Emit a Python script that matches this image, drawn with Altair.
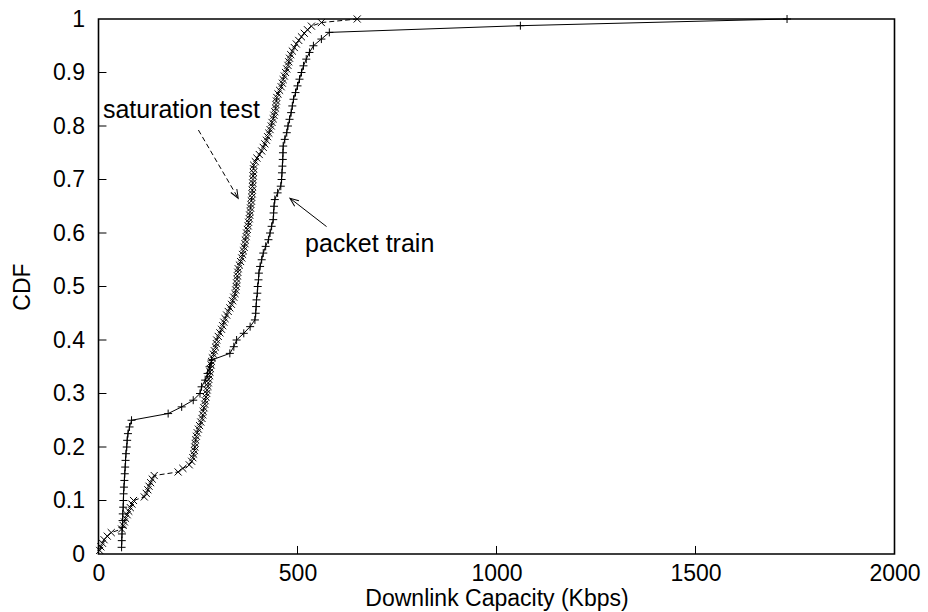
import altair as alt
import pandas as pd

# Downlink capacity samples (Kbps) measured by each method
packet_train_kbps = [
    58, 58.5, 59, 60, 60.5, 61, 62, 62.5, 63, 64,
    65, 66, 67, 68, 69, 71, 72, 74, 78, 83,
    175, 209, 238, 255, 259, 268, 274, 279, 284, 330,
    340, 347, 365, 381, 393, 395, 396, 397, 399, 400,
    402, 403, 406, 410, 414, 420, 427, 431, 435, 439,
    440, 441, 443, 450, 458, 460, 461, 462, 463, 463.5,
    464, 468, 473, 476, 480, 484, 487, 490, 495, 500,
    505, 510, 515, 522, 530, 540, 560, 580, 1060, 1730,
]

saturation_kbps = [
    3, 6, 10, 14, 22, 32, 58, 62, 65, 68,
    72, 76, 80, 84, 88, 115, 120, 124, 127, 131,
    135, 140, 200, 212, 228, 234, 237, 239, 241, 242,
    243, 244, 246, 248, 251, 254, 257, 260, 262, 263,
    265, 267, 268, 270, 272, 273, 275, 276, 277, 279,
    280, 281, 283, 284, 286, 289, 291, 294, 296, 297,
    301, 305, 309, 312, 315, 318, 322, 326, 330, 334,
    337, 340, 343, 345, 346, 347, 348, 349, 350, 351,
    354, 357, 360, 362, 364, 366, 368, 369, 371, 372,
    374, 376, 377, 379, 380, 381, 382, 383, 384, 385,
    386, 386.5, 387, 387.5, 388, 388.5, 389, 389.5, 390, 394,
    398, 404, 410, 414, 418, 422, 425, 428, 431, 434,
    436, 439, 441, 443, 445, 446, 447, 448, 451, 455,
    459, 462, 464, 467, 470, 473, 476, 478, 480, 483,
    487, 492, 497, 503, 510, 517, 525, 535, 560, 650,
]

x_ticks = [0, 500, 1000, 1500, 2000]
y_ticks = [0, 0.1, 0.2, 0.3, 0.4, 0.5, 0.6, 0.7, 0.8, 0.9, 1]

FONT = "Liberation Sans"
FS = 23
NOTE_FS = 25

x_scale = alt.Scale(domain=[0, 2000], nice=False, zero=False)
y_scale = alt.Scale(domain=[0, 1], nice=False, zero=False)

x_axis = alt.Axis(values=x_ticks, title="Downlink Capacity (Kbps)", grid=False,
                  format="d", domain=False, ticks=False, labelFont=FONT,
                  labelFontSize=FS, titleFont=FONT, titleFontSize=FS,
                  titleFontWeight="normal", labelColor="black",
                  titleColor="black", labelPadding=8, titlePadding=2,
                  labelFlush=False)
y_axis = alt.Axis(values=y_ticks, title="CDF", grid=False, format="~g",
                  domain=False, ticks=False, labelFont=FONT, labelFontSize=FS,
                  titleFont=FONT, titleFontSize=FS, titleFontWeight="normal",
                  labelColor="black", titleColor="black", labelPadding=14,
                  titlePadding=18, labelFlush=False)

PLUS = "M-1,0L1,0M0,-1L0,1"
CROSS = "M-1,-1L1,1M-1,1L1,-1"
ARROW_HEAD = "M-0.4,1L0,0L0.4,1"


def ecdf_layers(values, dash, shape, size):
    df = pd.DataFrame({"kbps": values})
    base = (
        alt.Chart(df)
        .transform_window(rank="row_number()", sort=[alt.SortField("kbps")])
        .transform_joinaggregate(n="count()")
        .transform_calculate(cdf="datum.rank / datum.n")
    )
    enc = dict(
        x=alt.X("kbps:Q", scale=x_scale, axis=x_axis),
        y=alt.Y("cdf:Q", scale=y_scale, axis=y_axis),
    )
    line_kw = dict(color="black", strokeWidth=1)
    if dash:
        line_kw["strokeDash"] = dash
    line = base.mark_line(**line_kw).encode(order="kbps:Q", **enc)
    pts = base.mark_point(shape=shape, filled=False, size=size, color="black",
                          strokeWidth=1, opacity=1).encode(**enc)
    return [line, pts]


one = alt.Data(values=[{}])

# Inward tick marks on the left and bottom edges
ytick_df = pd.DataFrame({"v": y_ticks[1:-1]})
xtick_df = pd.DataFrame({"v": x_ticks[1:-1]})
yticks = alt.Chart(ytick_df).mark_rule(color="black", strokeWidth=1).encode(
    y=alt.Y("v:Q", scale=y_scale, axis=y_axis),
    x=alt.datum(0, scale=x_scale), x2=alt.datum(20),
)
xticks = alt.Chart(xtick_df).mark_rule(color="black", strokeWidth=1).encode(
    x=alt.X("v:Q", scale=x_scale, axis=x_axis),
    y=alt.datum(0, scale=y_scale), y2=alt.datum(0.015),
)

# Annotations
sat_text = alt.Chart(one).mark_text(text="saturation test", align="left",
                                    baseline="alphabetic", font=FONT,
                                    fontSize=NOTE_FS, color="black").encode(
    x=alt.datum(11), y=alt.datum(0.815))
sat_arrow = alt.Chart(one).mark_rule(color="black", strokeWidth=1,
                                     strokeDash=[5, 3]).encode(
    x=alt.datum(251), y=alt.datum(0.7925), x2=alt.datum(351), y2=alt.datum(0.665))
sat_head = alt.Chart(one).mark_point(shape=ARROW_HEAD, filled=False, size=300,
                                     angle=149.7, color="black", strokeWidth=1,
                                     opacity=1).encode(
    x=alt.datum(351), y=alt.datum(0.665))

pt_text = alt.Chart(one).mark_text(text="packet train", align="left",
                                   baseline="alphabetic", font=FONT,
                                   fontSize=NOTE_FS, color="black").encode(
    x=alt.datum(519), y=alt.datum(0.564))
pt_arrow = alt.Chart(one).mark_rule(color="black", strokeWidth=1).encode(
    x=alt.datum(573), y=alt.datum(0.612), x2=alt.datum(481), y2=alt.datum(0.665))
pt_head = alt.Chart(one).mark_point(shape=ARROW_HEAD, filled=False, size=300,
                                    angle=307.7, color="black", strokeWidth=1,
                                    opacity=1).encode(
    x=alt.datum(481), y=alt.datum(0.665))

layers = (
    [yticks, xticks]
    + ecdf_layers(packet_train_kbps, None, PLUS, 64)
    + ecdf_layers(saturation_kbps, [5, 3], CROSS, 50)
    + [sat_text, sat_arrow, sat_head, pt_text, pt_arrow, pt_head]
)

chart = (
    alt.layer(*layers)
    .properties(width=796, height=535,
                autosize=alt.AutoSizeParams(type="none"),
                padding={"left": 98.5, "top": 19, "right": 33.5, "bottom": 58},
                background="white")
    .configure_view(stroke="black", strokeWidth=1.6)
)

chart.save("out.html", embed_options={"renderer": "svg", "actions": False})
